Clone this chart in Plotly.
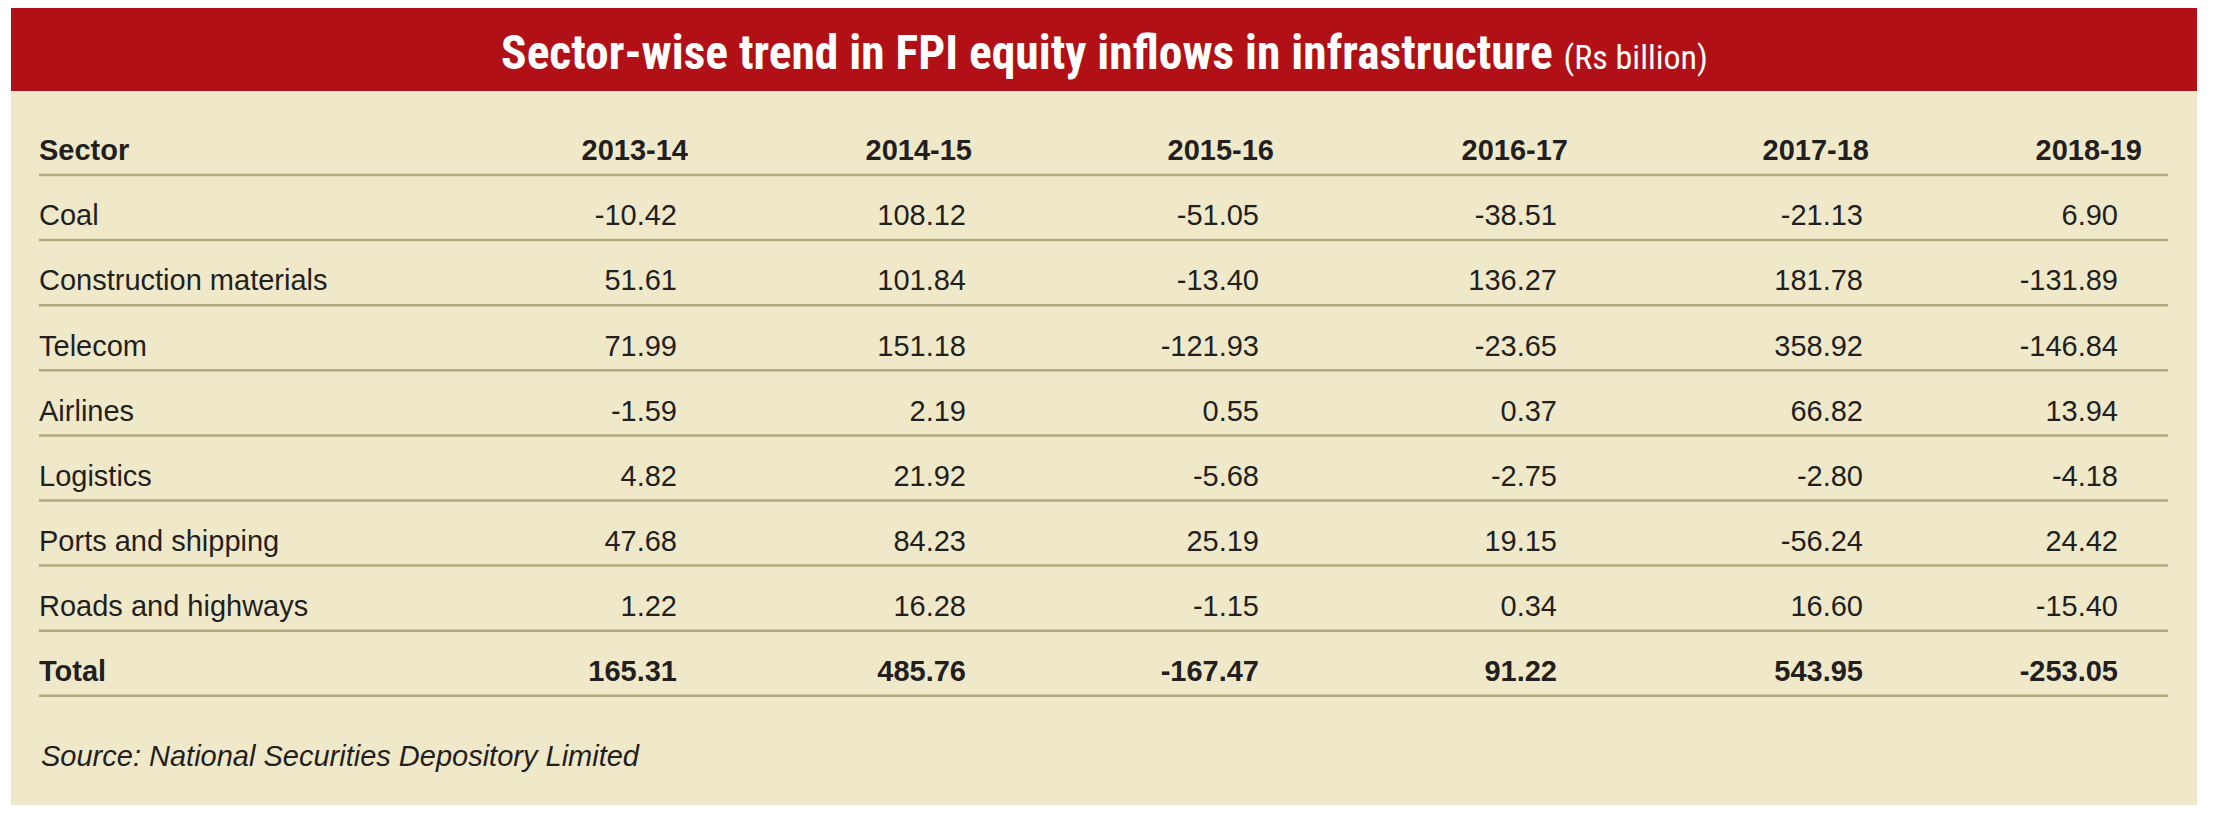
import plotly.graph_objects as go

# ---------------- data ----------------
title_main = "Sector-wise trend in FPI equity inflows in infrastructure"
title_unit = "(Rs billion)"
source_text = "Source: National Securities Depository Limited"

header_label = "Sector"
years = ["2013-14", "2014-15", "2015-16", "2016-17", "2017-18", "2018-19"]
sectors = ["Coal", "Construction materials", "Telecom", "Airlines",
           "Logistics", "Ports and shipping", "Roads and highways"]

coal = [-10.42, 108.12, -51.05, -38.51, -21.13, 6.90]
construction_materials = [51.61, 101.84, -13.40, 136.27, 181.78, -131.89]
telecom = [71.99, 151.18, -121.93, -23.65, 358.92, -146.84]
airlines = [-1.59, 2.19, 0.55, 0.37, 66.82, 13.94]
logistics = [4.82, 21.92, -5.68, -2.75, -2.80, -4.18]
ports_and_shipping = [47.68, 84.23, 25.19, 19.15, -56.24, 24.42]
roads_and_highways = [1.22, 16.28, -1.15, 0.34, 16.60, -15.40]

total_label = "Total"
total = [165.31, 485.76, -167.47, 91.22, 543.95, -253.05]

rows = [coal, construction_materials, telecom, airlines,
        logistics, ports_and_shipping, roads_and_highways]

# ---------------- layout / style ----------------
W, H = 2215, 823
PAGE_MARGIN = 8          # default body margin of the html page
PANEL = dict(x0=11, x1=2197, y0=8, y1=805)
BAND = dict(x0=11, x1=2197, y0=8, y1=91)
BEIGE = "#F0E9C9"
RED = "#B11116"
INK = "#231F20"
RULE = "#B1AA7E"

HEADER_Y = 153
ROW_H = 65.1
RULE_OFFSET = 22
LABEL_X = 39
RULE_X0, RULE_X1 = 39, 2168
HEADER_RIGHT = [688, 972, 1274, 1568, 1869, 2142]
VALUE_RIGHT = [677, 966, 1259, 1557, 1863, 2118]

BODY_FONT = "Liberation Sans, Arial, Helvetica, sans-serif"
TITLE_FONT = "Roboto Condensed, Open Sans, sans-serif"
FS = 29


def row_y(i):
    return HEADER_Y + ROW_H * i


def fmt(v):
    return f"{v:.2f}"


fig = go.Figure()

fig.add_trace(go.Scatter(
    x=[LABEL_X], y=[row_y(0)], text=[header_label], mode="text",
    textposition="middle right",
    textfont=dict(family=BODY_FONT, size=FS, color=INK, weight="bold"),
    hoverinfo="skip", showlegend=False))
fig.add_trace(go.Scatter(
    x=HEADER_RIGHT, y=[row_y(0)] * len(years), text=years, mode="text",
    textposition="middle left",
    textfont=dict(family=BODY_FONT, size=FS, color=INK, weight="bold"),
    hoverinfo="skip", showlegend=False))

fig.add_trace(go.Scatter(
    x=[LABEL_X] * len(sectors), y=[row_y(i + 1) for i in range(len(sectors))],
    text=sectors, mode="text", textposition="middle right",
    textfont=dict(family=BODY_FONT, size=FS, color=INK),
    hoverinfo="skip", showlegend=False))

for i, vals in enumerate(rows):
    fig.add_trace(go.Scatter(
        x=VALUE_RIGHT, y=[row_y(i + 1)] * len(vals),
        text=[fmt(v) for v in vals], mode="text", textposition="middle left",
        textfont=dict(family=BODY_FONT, size=FS, color=INK),
        hoverinfo="skip", showlegend=False))

n_total = len(rows) + 1
fig.add_trace(go.Scatter(
    x=[LABEL_X], y=[row_y(n_total)], text=[total_label], mode="text",
    textposition="middle right",
    textfont=dict(family=BODY_FONT, size=FS, color=INK, weight="bold"),
    hoverinfo="skip", showlegend=False))
fig.add_trace(go.Scatter(
    x=VALUE_RIGHT, y=[row_y(n_total)] * len(total),
    text=[fmt(v) for v in total], mode="text", textposition="middle left",
    textfont=dict(family=BODY_FONT, size=FS, color=INK, weight="bold"),
    hoverinfo="skip", showlegend=False))

shapes = [
    dict(type="rect", xref="x", yref="y", layer="below", line=dict(width=0),
         fillcolor=BEIGE, **PANEL),
    dict(type="rect", xref="x", yref="y", layer="below", line=dict(width=0),
         fillcolor=RED, **BAND),
]
for i in range(n_total + 1):
    y = row_y(i) + RULE_OFFSET
    shapes.append(dict(type="line", xref="x", yref="y", layer="below",
                       x0=RULE_X0, x1=RULE_X1, y0=y, y1=y,
                       line=dict(color=RULE, width=2.5)))

annotations = [
    dict(xref="x", yref="y", x=(BAND["x0"] + BAND["x1"]) / 2, y=53,
         xanchor="center", yanchor="middle", showarrow=False,
         text=f"<b>{title_main}</b> <span style='font-size:34px'>{title_unit}</span>",
         font=dict(family=TITLE_FONT, size=47.5, color="white")),
    dict(xref="x", yref="y", x=LABEL_X, y=756, xanchor="left", yanchor="middle",
         showarrow=False, text=f"<i>{source_text}</i>",
         font=dict(family=BODY_FONT, size=FS, color=INK)),
]

fig.update_layout(
    width=W - PAGE_MARGIN, height=H - PAGE_MARGIN,
    margin=dict(l=0, r=0, t=0, b=0),
    paper_bgcolor="white", plot_bgcolor="rgba(0,0,0,0)",
    xaxis=dict(range=[PAGE_MARGIN, W], visible=False, fixedrange=True),
    yaxis=dict(range=[H, PAGE_MARGIN], visible=False, fixedrange=True),
    shapes=shapes, annotations=annotations,
    hovermode=False, showlegend=False,
)

fig.write_html("out.html", config={"displayModeBar": False, "staticPlot": True})
